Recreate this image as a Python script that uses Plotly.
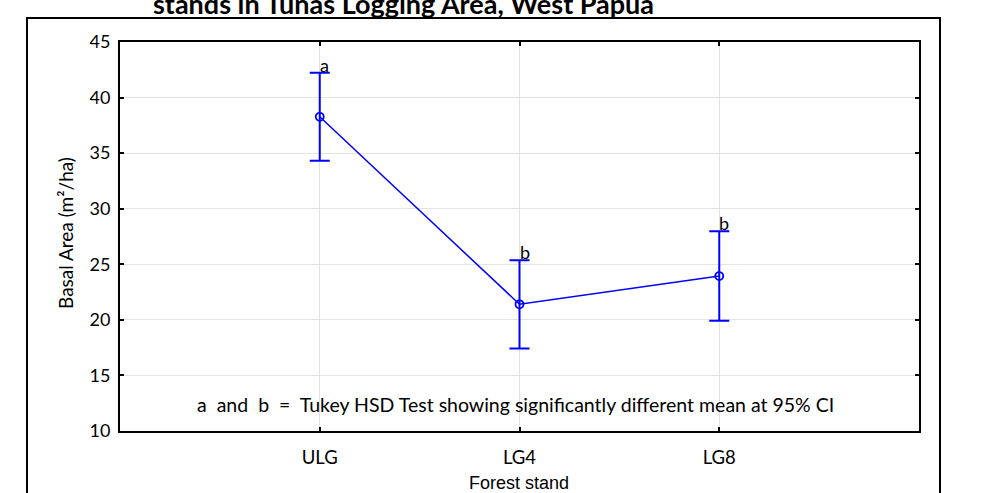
import plotly.graph_objects as go

categories = ["ULG", "LG4", "LG8"]
cat_pos = [1, 2, 3]
means = [38.27, 21.4, 23.94]
ci_half = [3.96, 3.97, 4.03]
letters = ["a", "b", "b"]
yticks = [10, 15, 20, 25, 30, 35, 40, 45]

W, H = 985, 493
L, R, T, B = 120, 919, 42, 431  # plot area in pixels

def px_x(p):
    return (p - L) / (R - L)

def px_y(p):
    return (B - p) / (B - T)

blue = "#0000ff"
calibri = "Lato, 'Open Sans', sans-serif"
arial = "Liberation Sans, Arial, sans-serif"

fig = go.Figure()
fig.add_trace(go.Scatter(
    x=cat_pos, y=means, mode="lines+markers",
    line=dict(color=blue, width=1.5),
    marker=dict(symbol="circle-open", size=8, color=blue, line=dict(width=1.8, color=blue)),
    error_y=dict(type="data", array=ci_half, color=blue, thickness=2, width=10),
    showlegend=False, hoverinfo="skip",
))

annotations = []
for xp, m, c, lt in zip(cat_pos, means, ci_half, letters):
    annotations.append(dict(x=xp, y=m + c, xref="x", yref="y", text=lt, showarrow=False,
                            xanchor="left", yanchor="bottom", xshift=-2, yshift=-5,
                            font=dict(family=calibri, size=18, color="black")))

annotations.append(dict(x=px_x(515), y=px_y(404), xref="paper", yref="paper",
                        text="a  and  b  =  Tukey HSD Test showing significantly different mean at 95% CI",
                        showarrow=False, xanchor="center", yanchor="middle",
                        font=dict(family=calibri, size=19.5, color="black")))
annotations.append(dict(x=px_x(519), y=px_y(483), xref="paper", yref="paper",
                        text="Forest stand", showarrow=False, xanchor="center", yanchor="middle",
                        font=dict(family=arial, size=18, color="black")))
annotations.append(dict(x=px_x(65), y=px_y(233), xref="paper", yref="paper",
                        text="Basal Area (m²/ha)", showarrow=False, textangle=-90,
                        xanchor="center", yanchor="middle",
                        font=dict(family=calibri, size=19, color="black")))
annotations.append(dict(x=px_x(403), y=px_y(3), xref="paper", yref="paper",
                        text="<b>stands in Tunas Logging Area, West Papua</b>", showarrow=False,
                        xanchor="center", yanchor="middle",
                        font=dict(family=calibri, size=27, color="black")))

shapes = [dict(type="rect", xref="paper", yref="paper",
               x0=px_x(27), x1=px_x(940), y0=px_y(520), y1=px_y(18),
               line=dict(color="black", width=2), fillcolor="rgba(0,0,0,0)", layer="below")]

fig.update_layout(
    width=W, height=H,
    margin=dict(l=L, r=W - R, t=T, b=H - B),
    plot_bgcolor="white", paper_bgcolor="white",
    annotations=annotations, shapes=shapes,
    xaxis=dict(range=[0, 4], tickvals=cat_pos, ticktext=categories,
               showgrid=True, gridcolor="#e3e3e3", gridwidth=1,
               showline=True, linecolor="black", linewidth=2, mirror="allticks",
               ticks="inside", ticklen=4, tickcolor="black", tickwidth=2,
               tickfont=dict(family=calibri, size=18.5, color="black"),
               ticklabelstandoff=9, zeroline=False, fixedrange=True),
    yaxis=dict(range=[10, 45], tickvals=yticks,
               showgrid=True, gridcolor="#e3e3e3", gridwidth=1,
               showline=True, linecolor="black", linewidth=2, mirror="allticks",
               ticks="inside", ticklen=4, tickcolor="black", tickwidth=2,
               tickfont=dict(family=calibri, size=18, color="black"),
               ticklabelstandoff=4, zeroline=False, fixedrange=True),
)

fig.write_html("out.html")
